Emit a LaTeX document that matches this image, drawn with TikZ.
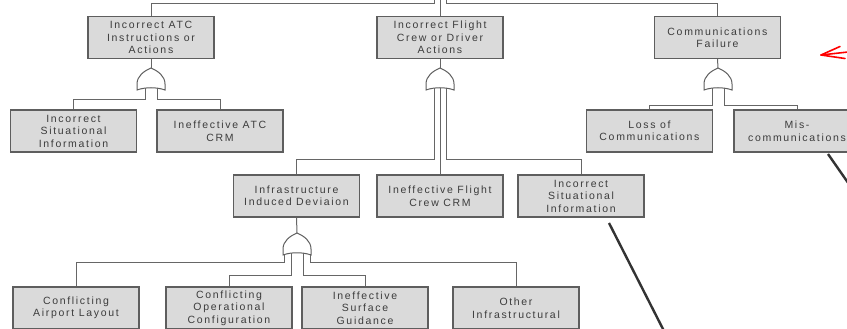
\documentclass[tikz,border=0pt]{standalone}
\usepackage{fontspec}
\setmainfont{Liberation Sans}[LetterSpace=16]
\usetikzlibrary{calc}
\definecolor{boxfill}{HTML}{DADADA}
\definecolor{boxline}{HTML}{5E5E5E}
\definecolor{txtc}{HTML}{3C3C3C}
\definecolor{wirec}{HTML}{666666}
\definecolor{diagc}{HTML}{333333}
\tikzset{
  evt/.style={draw=boxline, fill=boxfill, line width=1.1pt, minimum width=126pt,
    minimum height=42pt, inner sep=0pt, align=center, text=txtc,
    font=\fontsize{10.5}{12.5}\selectfont},
  wire/.style={draw=wirec, line width=1pt},
  gatestyle/.style={draw=boxline, fill=white, line width=1pt},
  diag/.style={draw=diagc, line width=2.4pt},
  redarrow/.style={draw=red, line width=1.6pt, line cap=round, line join=round},
  orgate/.pic={
    \path[gatestyle] (-14,0) -- (-14,-6) .. controls (-14,-14) and (-7,-19) .. (0,-22)
      .. controls (7,-19) and (14,-14) .. (14,-6) -- (14,0)
      .. controls (6,-3) and (-6,-3) .. (-14,0) -- cycle;
    \coordinate (-top) at (0,-22);
    \coordinate (-a) at (-13,-0.4);
    \coordinate (-b) at (-6,-1.8);
    \coordinate (-c) at (0,-2.2);
    \coordinate (-d) at (6,-1.8);
    \coordinate (-e) at (13,-0.4);
  }
}
\begin{document}
\begin{tikzpicture}[x=1pt,y=-1pt]
\useasboundingbox (0,0) rectangle (847,329);
\fill[white] (0,0) rectangle (847,329);
\clip (0,0) rectangle (847,329);

% top row
\node[evt] (atc) at (151,37.5) {Incorrect ATC\\Instructions or\\Actions};
\node[evt] (fc)  at (440,37.5) {Incorrect Flight\\Crew or Driver\\Actions};
\node[evt] (cf)  at (717.5,37.5) {Communications\\Failure};

% second row
\node[evt] (isi1) at (73.5,131) {Incorrect\\Situational\\Information};
\node[evt] (iatc) at (220,131) {Ineffective ATC\\CRM};
\node[evt] (loc)  at (649.5,131) {Loss of\\Communications};
\node[evt] (mis)  at (797,131) {Mis-\\communications};

% third row
\node[evt] (iid)  at (296.5,196) {Infrastructure\\Induced Deviaion};
\node[evt] (ifc)  at (440,196) {Ineffective Flight\\Crew CRM};
\node[evt] (isi2) at (581,196) {Incorrect\\Situational\\Information};

% bottom row
\node[evt] (cal) at (76,308) {Conflicting\\Airport Layout};
\node[evt] (coc) at (229,308) {Conflicting\\Operational\\Configuration};
\node[evt] (isg) at (365,308) {Ineffective\\Surface\\Guidance};
\node[evt] (oi)  at (516,308) {Other\\Infrastructural};

% gates
\pic (g1) at (151,90) {orgate};
\pic (g2) at (440,90) {orgate};
\pic (g3) at (718,90) {orgate};
\pic (g4) at (297,255) {orgate};

% top connections (leaving the picture)
\coordinate (t1) at (434,0);
\coordinate (t2) at (440,0);
\coordinate (t3) at (446,0);
\draw[wire] (atc.north) -- ++(0,-12.5) -| (t1);
\draw[wire] (fc.north) -- (t2);
\draw[wire] (cf.north) -- ++(0,-12.5) -| (t3);

% gate 1
\draw[wire] (atc.south) -- (g1-top);
\draw[wire] (isi1.north) -- ++(0,-10) -| (g1-b);
\draw[wire] (iatc.north) -- ++(0,-10) -| (g1-d);

% gate 2
\draw[wire] (fc.south) -- (g2-top);
\draw[wire] (iid.north) -- ++(0,-15) -| (g2-b);
\draw[wire] (ifc.north) -- (g2-c);
\draw[wire] (isi2.north) -- ++(0,-15) -| (g2-d);

% gate 3
\draw[wire] (cf.south) -- (g3-top);
\draw[wire] (loc.north) -- ++(0,-4) -| (g3-b);
\draw[wire] (mis.north) -- ++(0,-4) -| (g3-d);

% gate 4
\draw[wire] (iid.south) -- (g4-top);
\draw[wire] (cal.north) -- ++(0,-24) -| (g4-a);
\draw[wire] (coc.north) -- ++(0,-11) -| (g4-b);
\draw[wire] (isg.north) -- ++(0,-11) -| (g4-d);
\draw[wire] (oi.north) -- ++(0,-24) -| (g4-e);

% diagonal callout lines
\coordinate (d1a) at (609,223);
\coordinate (d1b) at (664,331);
\coordinate (d2a) at (828,154);
\coordinate (d2b) at (851,187);
\draw[diag] (d1a) -- (d1b);
\draw[diag] (d2a) -- (d2b);

% red arrow
\coordinate (rtip) at (821,55);
\coordinate (rs) at (848,52);
\coordinate (ru) at (840,46.5);
\coordinate (rl) at (845,58.5);
\draw[redarrow] (rs) -- (rtip);
\draw[redarrow] (ru) -- (rtip) -- (rl);
\end{tikzpicture}
\end{document}
